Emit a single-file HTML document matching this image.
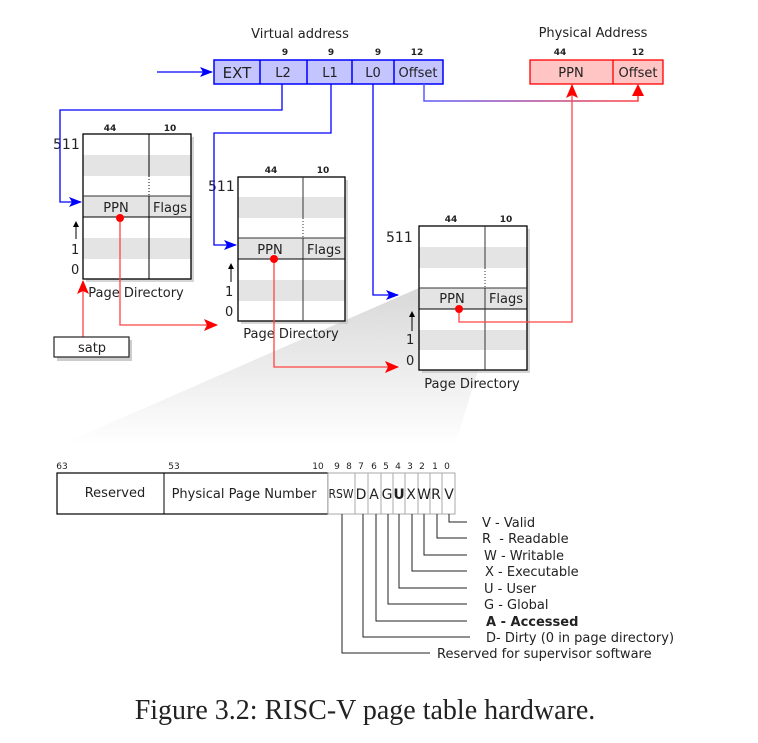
<!DOCTYPE html>
<html><head><meta charset="utf-8"><style>
html,body{margin:0;padding:0;background:#fff;}
svg{display:block;}
text{font-family:"DejaVu Sans","Liberation Sans",sans-serif;fill:#222;}
</style></head><body>
<svg width="758" height="743" viewBox="0 0 758 743" xmlns="http://www.w3.org/2000/svg">
<defs>
<linearGradient id="wg" x1="0" y1="0" x2="0" y2="1"><stop offset="0" stop-color="#d8d8d8"/><stop offset="1" stop-color="#fff"/></linearGradient>
<linearGradient id="og" x1="0" y1="0" x2="1" y2="0"><stop offset="0" stop-color="#5a5aff"/><stop offset="1" stop-color="#ff4040"/></linearGradient>
<marker id="ab" markerWidth="13" markerHeight="10" refX="12" refY="5" orient="auto" markerUnits="userSpaceOnUse"><path d="M0,0 L13,5 L0,10 L3,5z" fill="#00f"/></marker>
<marker id="ar" markerWidth="14" markerHeight="12" refX="13" refY="6" orient="auto" markerUnits="userSpaceOnUse"><path d="M0,0 L14,6 L0,12 L3,6z" fill="#f00"/></marker>
<marker id="ak" markerWidth="6" markerHeight="8" refX="5" refY="3" orient="auto" markerUnits="userSpaceOnUse"><path d="M0,0 L6,3 L0,6z" fill="#000"/></marker>
</defs>

<polygon points="419,288 500,300 455,445 60,445" fill="url(#wg)"/>

<text x="300" y="38" font-size="13" text-anchor="middle">Virtual address</text>
<g font-size="9" text-anchor="middle" font-weight="bold"><text x="285" y="55">9</text><text x="331" y="55">9</text><text x="378" y="55">9</text><text x="417" y="55">12</text><text x="560" y="55">44</text><text x="638" y="55">12</text></g>
<rect x="214" y="60" width="229" height="24" fill="#c4c4ff" stroke="#00f" stroke-width="1.5"/>
<g stroke="#00f" stroke-width="1.5"><line x1="260" y1="60" x2="260" y2="84"/><line x1="307" y1="60" x2="307" y2="84"/><line x1="352" y1="60" x2="352" y2="84"/><line x1="394" y1="60" x2="394" y2="84"/></g>
<text x="237" y="78" font-size="15" text-anchor="middle">EXT</text>
<g font-size="13" text-anchor="middle"><text x="283" y="77">L2</text><text x="330" y="77">L1</text><text x="373" y="77">L0</text><text x="418" y="77">Offset</text></g>
<line x1="157" y1="72" x2="212" y2="72" stroke="#00f" stroke-width="1.3" marker-end="url(#ab)"/>

<text x="593" y="37" font-size="13" text-anchor="middle">Physical Address</text>
<rect x="530" y="60" width="133" height="24" fill="#ffc4c4" stroke="#f00" stroke-width="1.3"/>
<line x1="613" y1="60" x2="613" y2="84" stroke="#f00" stroke-width="1.3"/>
<g font-size="13" text-anchor="middle"><text x="571" y="77">PPN</text><text x="638" y="77">Offset</text></g>

<path d="M424,84 V101 H638 V86" fill="none" stroke="url(#og)" stroke-width="1.5"/>
<path d="M632,96 L638,84 L644,96z" fill="#f00"/>

<g>
<rect x="86" y="137" width="108" height="145" fill="#bbb" opacity="0.6"/>
<rect x="83" y="134" width="108" height="145" fill="#fff"/>
<rect x="83" y="155" width="108" height="21" fill="#e4e4e4"/><rect x="83" y="196" width="108" height="21" fill="#e4e4e4"/><rect x="83" y="238" width="108" height="21" fill="#e4e4e4"/>
<rect x="83" y="134" width="108" height="145" fill="none" stroke="#000" stroke-width="1.3"/>
<line x1="83" y1="196" x2="191" y2="196" stroke="#333"/><line x1="83" y1="217" x2="191" y2="217" stroke="#000"/>
<line x1="149" y1="134" x2="149" y2="176" stroke="#000"/><line x1="149" y1="176" x2="149" y2="196" stroke="#000" stroke-dasharray="1,2"/><line x1="149" y1="196" x2="149" y2="279" stroke="#000"/>
<text x="116" y="212" font-size="13" text-anchor="middle">PPN</text><text x="170" y="212" font-size="13" text-anchor="middle">Flags</text>
<g font-size="9" font-weight="bold" text-anchor="middle"><text x="110" y="131">44</text><text x="170" y="131">10</text></g>
<text x="53" y="149" font-size="14">511</text><text x="71" y="254" font-size="13">1</text><text x="71" y="274" font-size="13">0</text>
<line x1="76" y1="239" x2="76" y2="222" stroke="#000" marker-end="url(#ak)"/>
<text x="136" y="297" font-size="13" text-anchor="middle">Page Directory</text>
</g>

<g>
<rect x="241" y="180" width="107" height="144" fill="#bbb" opacity="0.6"/>
<rect x="238" y="177" width="107" height="144" fill="#fff"/>
<rect x="238" y="197" width="107" height="21" fill="#e4e4e4"/><rect x="238" y="238" width="107" height="21" fill="#e4e4e4"/><rect x="238" y="280" width="107" height="21" fill="#e4e4e4"/>
<rect x="238" y="177" width="107" height="144" fill="none" stroke="#000" stroke-width="1.3"/>
<line x1="238" y1="238" x2="345" y2="238" stroke="#333"/><line x1="238" y1="259" x2="345" y2="259" stroke="#000"/>
<line x1="303" y1="177" x2="303" y2="218" stroke="#333"/><line x1="303" y1="218" x2="303" y2="238" stroke="#333" stroke-dasharray="1,2"/><line x1="303" y1="238" x2="303" y2="321" stroke="#333"/>
<text x="270" y="254" font-size="13" text-anchor="middle">PPN</text><text x="324" y="254" font-size="13" text-anchor="middle">Flags</text>
<g font-size="9" font-weight="bold" text-anchor="middle"><text x="271" y="173">44</text><text x="323" y="173">10</text></g>
<text x="208" y="191" font-size="14">511</text><text x="225" y="296" font-size="13">1</text><text x="225" y="316" font-size="13">0</text>
<line x1="231" y1="282" x2="231" y2="264" stroke="#000" marker-end="url(#ak)"/>
<text x="291" y="338" font-size="13" text-anchor="middle">Page Directory</text>
</g>

<g>
<rect x="422" y="229" width="108" height="144" fill="#bbb" opacity="0.6"/>
<rect x="419" y="226" width="108" height="144" fill="#fff"/>
<rect x="419" y="247" width="108" height="21" fill="#e4e4e4"/><rect x="419" y="288" width="108" height="21" fill="#e4e4e4"/><rect x="419" y="330" width="108" height="20" fill="#e4e4e4"/>
<rect x="419" y="226" width="108" height="144" fill="none" stroke="#000" stroke-width="1.3"/>
<line x1="419" y1="288" x2="527" y2="288" stroke="#333"/><line x1="419" y1="309" x2="527" y2="309" stroke="#000"/>
<line x1="485" y1="226" x2="485" y2="268" stroke="#333"/><line x1="485" y1="268" x2="485" y2="288" stroke="#333" stroke-dasharray="1,2"/><line x1="485" y1="288" x2="485" y2="370" stroke="#333"/>
<text x="452" y="303" font-size="13" text-anchor="middle">PPN</text><text x="506" y="303" font-size="13" text-anchor="middle">Flags</text>
<g font-size="9" font-weight="bold" text-anchor="middle"><text x="451" y="222">44</text><text x="506" y="222">10</text></g>
<text x="386" y="242" font-size="14">511</text><text x="406" y="344" font-size="13">1</text><text x="406" y="365" font-size="13">0</text>
<line x1="412" y1="331" x2="412" y2="312" stroke="#000" marker-end="url(#ak)"/>
<text x="472" y="388" font-size="13" text-anchor="middle">Page Directory</text>
</g>

<g fill="none" stroke="#00f" stroke-width="1.3">
<path d="M282,84 V110 H60 V202 H81" marker-end="url(#ab)"/>
<path d="M331,84 V133 H214 V245 H236" marker-end="url(#ab)"/>
<path d="M373,84 V295 H398" marker-end="url(#ab)"/>
</g>

<g fill="none" stroke="#f44" stroke-width="1.3">
<path d="M120,218 V325 H217" marker-end="url(#ar)"/>
<path d="M274,259 V367 H398" marker-end="url(#ar)"/>
<path d="M459,309 V322 H572 V85" marker-end="url(#ar)"/>
<path d="M83,337 V281" marker-end="url(#ar)"/>
</g>
<g fill="#f00"><circle cx="120" cy="218" r="4"/><circle cx="274" cy="259" r="4"/><circle cx="459" cy="309" r="4"/></g>

<rect x="57" y="340" width="75" height="21" fill="#aaa" opacity="0.6"/>
<rect x="54" y="337" width="75" height="20" fill="#fff" stroke="#222" stroke-width="1.2"/>
<text x="92" y="352" font-size="13" text-anchor="middle">satp</text>

<g font-size="9" text-anchor="middle"><text x="62" y="469">63</text><text x="174" y="469">53</text><text x="318" y="469">10</text><text x="337" y="469">9</text><text x="349" y="469">8</text><text x="361" y="469">7</text><text x="374" y="469">6</text><text x="386" y="469">5</text><text x="398" y="469">4</text><text x="410" y="469">3</text><text x="422" y="469">2</text><text x="435" y="469">1</text><text x="447" y="469">0</text></g>
<rect x="57" y="473" width="271" height="41" fill="#fff" stroke="#000" stroke-width="1.2"/>
<line x1="164" y1="473" x2="164" y2="514" stroke="#000"/>
<text x="115" y="497" font-size="13" text-anchor="middle">Reserved</text>
<text x="244" y="498" font-size="13" text-anchor="middle">Physical Page Number</text>
<g fill="#fff" stroke="#aaa" stroke-width="1"><rect x="328" y="473" width="127" height="41"/></g>
<g stroke="#aaa"><line x1="355" y1="473" x2="355" y2="514"/><line x1="368" y1="473" x2="368" y2="514"/><line x1="381" y1="473" x2="381" y2="514"/><line x1="393" y1="473" x2="393" y2="514"/><line x1="405" y1="473" x2="405" y2="514"/><line x1="418" y1="473" x2="418" y2="514"/><line x1="430" y1="473" x2="430" y2="514"/><line x1="442" y1="473" x2="442" y2="514"/></g>
<text x="341" y="498" font-size="12" text-anchor="middle" textLength="25" lengthAdjust="spacingAndGlyphs">RSW</text>
<g font-size="14" text-anchor="middle"><text x="361" y="499">D</text><text x="374" y="499">A</text><text x="387" y="499">G</text><text x="399" y="499" font-weight="bold">U</text><text x="411" y="499">X</text><text x="424" y="499">W</text><text x="436" y="499">R</text><text x="449" y="499">V</text></g>

<g fill="none" stroke="#222" stroke-width="1">
<path d="M449,514 V522 H467"/><path d="M437,514 V538 H467"/><path d="M424,514 V555 H467"/><path d="M412,514 V571 H467"/><path d="M399,514 V588 H467"/><path d="M388,514 V604 H467"/><path d="M376,514 V621 H467"/><path d="M363,514 V637 H470"/><path d="M342,514 V653 H430"/>
</g>
<g font-size="13"><text x="482" y="527">V - Valid</text><text x="482" y="543">R&#160; - Readable</text><text x="484" y="560">W - Writable</text><text x="485" y="576">X - Executable</text><text x="484" y="593">U - User</text><text x="484" y="609">G - Global</text><text x="486" y="626" font-weight="bold">A - Accessed</text><text x="486" y="642">D- Dirty (0 in page directory)</text><text x="437" y="658">Reserved for supervisor software</text></g>

<text x="365" y="719" font-size="28" text-anchor="middle" style="font-family:'Liberation Serif',serif">Figure 3.2: RISC-V page table hardware.</text>
</svg>
</body></html>
